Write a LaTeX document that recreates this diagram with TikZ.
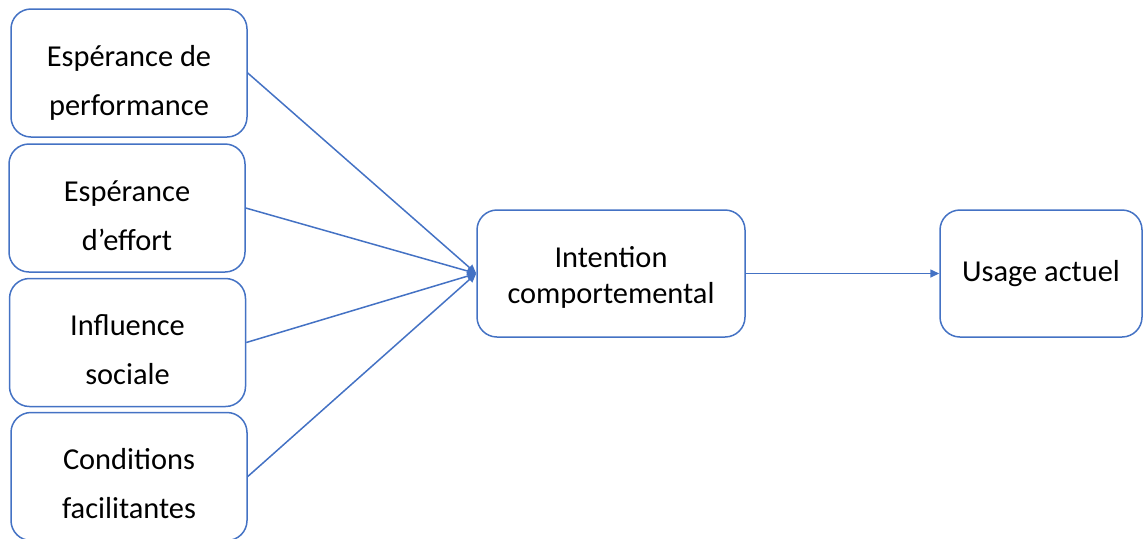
\documentclass[tikz,border=0pt]{standalone}
\usepackage{fontspec}
\setmainfont{Carlito}
\usetikzlibrary{arrows.meta, positioning}

\definecolor{officeblue}{HTML}{4472C4}

\begin{document}
\begin{tikzpicture}[x=0.5pt, y=-0.5pt,
        factor/.style={draw=officeblue, line width=0.75pt, rounded corners=10pt, fill=white,
            minimum width=118pt, minimum height=64pt, align=center,
            font=\fontsize{15.2}{24.5}\selectfont, text height=42pt, text depth=0pt},
        target/.style={draw=officeblue, line width=0.75pt, rounded corners=10pt, fill=white,
            minimum height=63.5pt, align=center, font=\fontsize{15.2}{18}\selectfont},
        link/.style={draw=officeblue, line width=0.75pt, -{Triangle[length=4.5pt, width=4pt]}}]
        % Frame
        \useasboundingbox (0,0) rectangle (1143,538);

        % Determinants
        \node[factor] (perf) at (129,73) {Espérance de\\performance};
        \node[factor] (effort) at (127,208) {Espérance\\d’effort};
        \node[factor] (social) at (127.5,342.5) {Influence\\sociale};
        \node[factor] (cond) at (129,476.5) {Conditions\\facilitantes};

        % Intention and usage
        \node[target, minimum width=134pt, text height=29.5pt, text depth=0pt] (intent) at (611,273.5) {Intention\\comportemental};
        \node[target, minimum width=101pt] (usage) at (1041,273.5) {Usage actuel};

        % Links
        \draw[link] (perf.east) -- (intent.west);
        \draw[link] (effort.east) -- (intent.west);
        \draw[link] (social.east) -- (intent.west);
        \draw[link] (cond.east) -- (intent.west);
        \draw[link] (intent.east) -- (usage.west);
    \end{tikzpicture}
\end{document}
